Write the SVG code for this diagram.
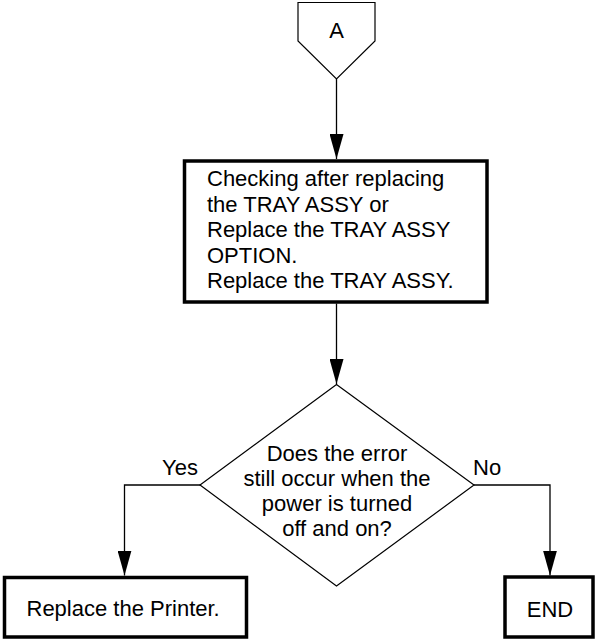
<svg xmlns="http://www.w3.org/2000/svg" width="596" height="641" viewBox="0 0 596 641">
<style>
text{font-family:"Liberation Sans",Arial,sans-serif;font-size:22px;fill:#000}
.c{text-anchor:middle}
.box{fill:#fff;stroke:#000;stroke-width:3.5}
.thin{fill:#fff;stroke:#000;stroke-width:1.2}
.ln{fill:none;stroke:#000;stroke-width:1.3}
</style>
<defs>
<marker id="arr" viewBox="0 0 25 14" refX="25" refY="7" markerUnits="userSpaceOnUse" markerWidth="25" markerHeight="14" orient="auto">
<path d="M0,0 L25,7 L0,14 Z" fill="#000"/>
</marker>
</defs>
<g id="connectors">
<path class="ln" d="M336.5,79 V159" marker-end="url(#arr)"/>
<path class="ln" d="M336.5,303.5 V384" marker-end="url(#arr)"/>
<path class="ln" d="M200,485 H124.5 V575.5" marker-end="url(#arr)"/>
<path class="ln" d="M474,485 H550 V575.5" marker-end="url(#arr)"/>
</g>
<g id="nodeA">
<polygon class="thin" points="298,2.5 375,2.5 375,41 336.5,79 298,41"/>
<text class="c" x="336.5" y="38">A</text>
</g>
<g id="nodeCheck">
<rect class="box" x="184.5" y="161" width="302.5" height="141"/>
<text x="207" y="186">Checking after replacing</text>
<text x="207" y="211.5">the TRAY ASSY or</text>
<text x="207" y="237">Replace the TRAY ASSY</text>
<text x="207" y="262.5">OPTION.</text>
<text x="207" y="288">Replace the TRAY ASSY.</text>
</g>
<g id="nodeDecision">
<polygon class="thin" points="336.5,384.5 474,485 336.5,586 200,485"/>
<text class="c" x="337" y="461">Does the error</text>
<text class="c" x="337" y="486">still occur when the</text>
<text class="c" x="337" y="511">power is turned</text>
<text class="c" x="337" y="536">off and on?</text>
</g>
<g id="labels">
<text x="162" y="475">Yes</text>
<text x="473" y="475">No</text>
</g>
<g id="nodePrinter">
<rect class="box" x="4.5" y="577.5" width="242" height="59.5"/>
<text x="26.5" y="615.5">Replace the Printer.</text>
</g>
<g id="nodeEnd">
<rect class="box" x="505" y="577" width="88" height="60"/>
<text class="c" x="550" y="617">END</text>
</g>
</svg>
